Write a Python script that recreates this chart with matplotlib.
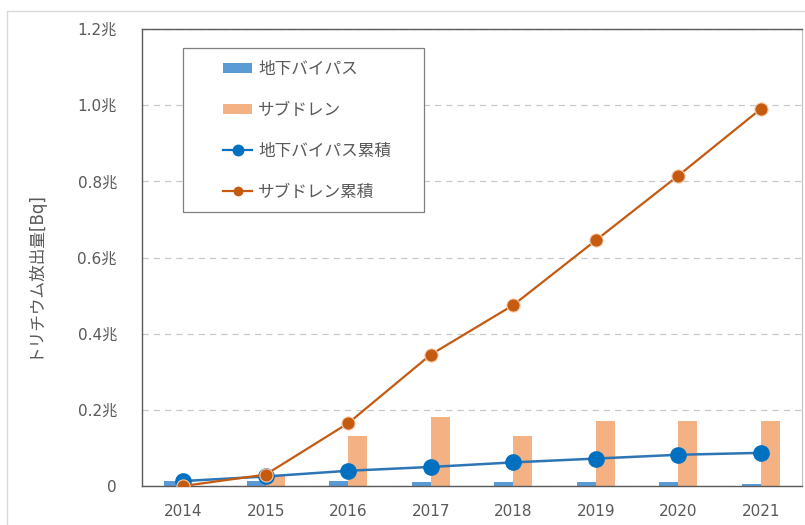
import matplotlib.pyplot as plt
import numpy as np
from matplotlib.lines import Line2D
from matplotlib.patches import Patch, Rectangle

plt.rcParams["font.family"] = ["DejaVu Sans", "Noto Sans CJK JP"]

# ---------------------------------------------------------------- data

YEARS = ["2014", "2015", "2016", "2017", "2018", "2019", "2020", "2021"]
BYPASS = [0.013, 0.012, 0.014, 0.010, 0.011, 0.010, 0.010, 0.005]
SUBDRAIN = [0.0, 0.03, 0.13, 0.18, 0.13, 0.17, 0.17, 0.17]
BYPASS_CUM = [0.013, 0.025, 0.040, 0.050, 0.062, 0.072, 0.082, 0.087]
SUBDRAIN_CUM = [0.0, 0.03, 0.165, 0.345, 0.475, 0.645, 0.815, 0.99]
YTICKS = [0, 0.2, 0.4, 0.6, 0.8, 1.0, 1.2]
YTICK_LABELS = ["0", "0.2兆", "0.4兆", "0.6兆", "0.8兆", "1.0兆", "1.2兆"]
LABELS = ["地下バイパス", "サブドレン", "地下バイパス累積", "サブドレン累積"]

BLUE_BAR, ORANGE_BAR = "#5b9bd5", "#f4b183"
BLUE_LINE, ORANGE_LINE = "#0070c0", "#c55a11"
TXT, SPINE, GRID = "#595959", "#595959", "#c8c8c8"

fig = plt.figure(figsize=(8.05, 5.25), dpi=100)
fig.patches.append(Rectangle((7 / 805, -0.1), 1.2, 1 - 11 / 525 + 0.1,
                             transform=fig.transFigure, fill=False,
                             edgecolor="#d9d9d9", linewidth=1.0))
ax = fig.add_axes([142 / 805, 1 - 486 / 525, 660 / 805, 457 / 525])

x = np.arange(len(YEARS))
w = 0.23
ax.bar(x - w / 2, BYPASS, width=w, color=BLUE_BAR, zorder=2)
ax.bar(x + w / 2, SUBDRAIN, width=w, color=ORANGE_BAR, zorder=2)
ax.plot(x, BYPASS_CUM, color="#2e75b6", linewidth=1.8, marker="o",
        markersize=11, markerfacecolor=BLUE_LINE, markeredgecolor=BLUE_LINE,
        zorder=3)
ax.plot(x, SUBDRAIN_CUM, color=ORANGE_LINE, linewidth=1.6, marker="o",
        markersize=9.5, markerfacecolor=ORANGE_LINE,
        markeredgecolor="#f8cbad", markeredgewidth=0.8, zorder=4)

ax.set_xlim(-0.5, len(YEARS) - 0.5)
ax.set_ylim(0, 1.2)
ax.set_xticks(x, YEARS)
ax.set_yticks(YTICKS, YTICK_LABELS)
ax.tick_params(length=0, labelsize=11, colors=TXT)
ax.tick_params(axis="x", pad=13)
ax.tick_params(axis="y", pad=18)
ax.yaxis.grid(True, linestyle=(0, (5, 4)), color=GRID, linewidth=0.9, zorder=0)
for side in ("left", "top", "bottom"):
    ax.spines[side].set_color(SPINE)
    ax.spines[side].set_linewidth(1.0)
ax.spines["right"].set_color("#bfbfbf")

fig.text(33 / 805, 1 - 274 / 525, "トリチウム放出量[Bq]", rotation=90,
         ha="center", va="center", fontsize=12, color=TXT)

# legend: frame drawn separately so the inner padding can differ per side
ax.add_patch(Rectangle((41 / 660, 1 - 183 / 457), 241 / 660, 164 / 457,
                       transform=ax.transAxes, facecolor="white",
                       edgecolor="#7f7f7f", linewidth=0.9, zorder=5))
handles = [
    Patch(facecolor=BLUE_BAR),
    Patch(facecolor=ORANGE_BAR),
    Line2D([], [], color=BLUE_LINE, marker="o", markersize=7.5, linewidth=1.6),
    Line2D([], [], color=ORANGE_LINE, marker="o", markersize=6, linewidth=1.6),
]
leg = ax.legend(handles, LABELS, loc="upper left",
                bbox_to_anchor=(81 / 660, 1 - 31 / 457), fontsize=12,
                labelcolor=TXT, frameon=False, labelspacing=1.38,
                handlelength=1.75, handleheight=0.6, handletextpad=0.35,
                borderpad=0, borderaxespad=0)
leg.set_zorder(6)

fig.savefig("out.png", dpi=100, facecolor="white")
